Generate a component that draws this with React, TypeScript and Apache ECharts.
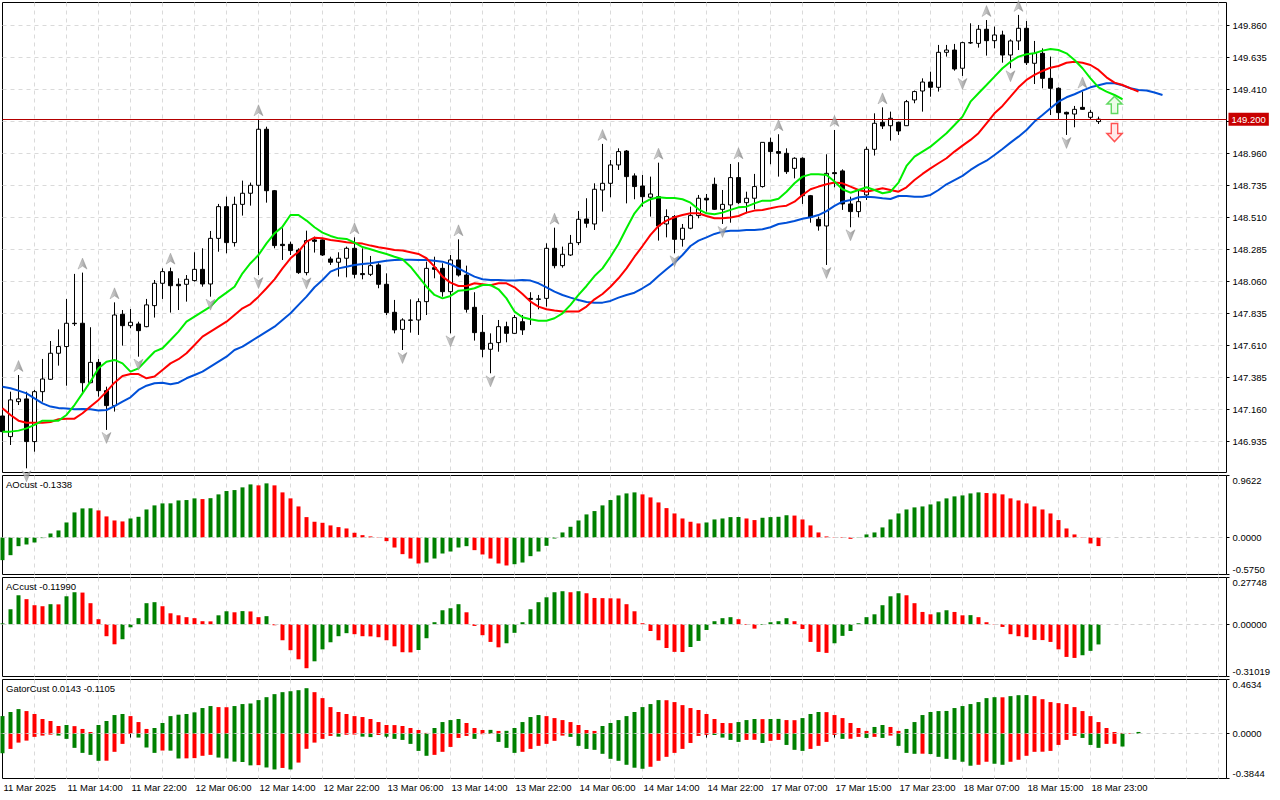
import React, { useEffect, useRef } from "react";
import * as echarts from "echarts";

// ---------- DATA ----------
const LAST_BAR = 137;
const SLOTS = 154;
const MONTHS = ["Jan", "Feb", "Mar", "Apr", "May", "Jun", "Jul", "Aug", "Sep", "Oct", "Nov", "Dec"];

// [open, high, low, close] per H1 bar, 11 Mar 06:00 .. 19 Mar 00:00
const ohlc: number[][] = [
  [147.113, 147.144, 146.980, 147.003], [146.968, 147.284, 146.909, 147.226], [147.214, 147.401, 147.190, 147.233],
  [147.233, 147.284, 146.745, 146.933], [146.933, 147.296, 146.862, 147.284], [147.284, 147.514, 147.214, 147.373],
  [147.371, 147.640, 147.366, 147.554], [147.554, 147.722, 147.467, 147.601], [147.601, 147.936, 147.326, 147.765],
  [147.765, 148.112, 147.746, 147.762], [147.765, 148.121, 147.272, 147.347], [147.347, 147.737, 147.343, 147.490],
  [147.490, 147.514, 147.249, 147.291], [147.291, 147.319, 147.015, 147.186], [147.186, 147.912, 147.144, 147.823],
  [147.828, 147.858, 147.608, 147.748], [147.748, 147.865, 147.730, 147.772], [147.760, 147.776, 147.530, 147.713],
  [147.741, 147.936, 147.737, 147.894], [147.889, 148.069, 147.805, 148.046], [148.046, 148.151, 147.936, 148.128],
  [148.128, 148.156, 147.840, 148.029], [148.039, 148.081, 147.858, 148.029], [148.039, 148.104, 147.917, 148.074],
  [148.065, 148.264, 148.058, 148.144], [148.144, 148.292, 148.022, 148.041], [148.041, 148.414, 147.952, 148.362],
  [148.362, 148.604, 148.268, 148.585], [148.585, 148.655, 148.257, 148.332], [148.332, 148.655, 148.304, 148.601],
  [148.601, 148.768, 148.522, 148.679], [148.679, 148.754, 148.592, 148.735], [148.735, 149.199, 148.104, 149.129],
  [149.129, 149.147, 148.613, 148.697], [148.697, 148.702, 148.292, 148.311], [148.320, 148.433, 148.210, 148.311],
  [148.320, 148.339, 148.245, 148.276], [148.280, 148.292, 148.112, 148.121], [148.121, 148.416, 148.102, 148.346],
  [148.351, 148.374, 148.262, 148.341], [148.351, 148.355, 148.238, 148.245], [148.217, 148.233, 148.175, 148.194],
  [148.194, 148.264, 148.093, 148.222], [148.222, 148.304, 148.088, 148.292], [148.292, 148.369, 148.081, 148.109],
  [148.114, 148.292, 148.074, 148.107], [148.109, 148.238, 148.097, 148.170], [148.175, 148.187, 148.011, 148.039],
  [148.039, 148.116, 147.823, 147.840], [147.842, 147.929, 147.694, 147.718], [147.722, 147.800, 147.577, 147.788],
  [147.788, 147.933, 147.699, 147.786], [147.788, 147.940, 147.683, 147.917], [147.917, 148.198, 147.823, 148.151],
  [148.156, 148.233, 148.081, 148.144], [148.151, 148.187, 147.952, 147.987], [147.987, 148.245, 147.694, 148.210],
  [148.210, 148.355, 148.093, 148.104], [148.104, 148.170, 147.840, 147.863], [147.877, 147.983, 147.643, 147.699],
  [147.701, 147.823, 147.526, 147.582], [147.582, 147.694, 147.413, 147.624], [147.629, 147.788, 147.565, 147.741],
  [147.741, 147.776, 147.631, 147.694], [147.694, 147.823, 147.690, 147.805], [147.776, 147.823, 147.683, 147.718],
  [147.940, 147.983, 147.753, 147.933], [147.933, 147.964, 147.863, 147.936], [147.940, 148.327, 147.882, 148.292],
  [148.292, 148.437, 148.151, 148.170], [148.170, 148.304, 148.156, 148.250], [148.245, 148.386, 148.238, 148.327],
  [148.332, 148.554, 148.315, 148.496], [148.498, 148.644, 148.437, 148.468], [148.463, 148.749, 148.421, 148.707],
  [148.702, 149.026, 148.550, 148.749], [148.749, 148.913, 148.651, 148.878], [148.878, 148.995, 148.843, 148.972],
  [148.976, 148.983, 148.608, 148.796], [148.801, 148.819, 148.637, 148.726], [148.730, 148.808, 148.585, 148.655],
  [148.651, 148.796, 148.515, 148.674], [148.655, 148.894, 148.346, 148.449], [148.463, 148.566, 148.369, 148.515],
  [148.515, 148.526, 148.257, 148.355], [148.355, 148.463, 148.304, 148.433], [148.433, 148.585, 148.426, 148.522],
  [148.522, 148.667, 148.503, 148.644], [148.644, 148.674, 148.550, 148.632], [148.742, 148.789, 148.562, 148.566],
  [148.566, 148.702, 148.463, 148.601], [148.597, 148.885, 148.472, 148.789], [148.789, 148.897, 148.604, 148.613],
  [148.613, 148.690, 148.538, 148.644], [148.644, 148.815, 148.566, 148.726], [148.726, 149.037, 148.719, 149.037],
  [149.037, 149.070, 148.883, 148.972], [148.972, 149.094, 148.796, 148.960], [148.960, 148.995, 148.815, 148.831],
  [148.854, 148.932, 148.784, 148.925], [148.925, 148.932, 148.604, 148.662], [148.662, 148.667, 148.472, 148.510],
  [148.496, 148.515, 148.416, 148.449], [148.449, 148.953, 148.175, 148.819], [148.824, 149.124, 148.721, 148.817],
  [148.836, 148.847, 148.562, 148.604], [148.604, 148.655, 148.440, 148.550], [148.550, 148.702, 148.510, 148.620],
  [148.667, 149.007, 148.632, 148.988], [148.988, 149.241, 148.944, 149.171], [149.178, 149.283, 149.131, 149.152],
  [149.154, 149.253, 149.049, 149.206], [149.178, 149.183, 149.089, 149.117], [149.154, 149.335, 149.152, 149.323],
  [149.335, 149.401, 149.312, 149.394], [149.398, 149.487, 149.253, 149.461], [149.461, 149.534, 149.358, 149.424],
  [149.424, 149.722, 149.394, 149.670], [149.670, 149.722, 149.640, 149.686], [149.686, 149.729, 149.541, 149.553],
  [149.558, 149.745, 149.504, 149.738], [149.736, 149.874, 149.729, 149.738], [149.733, 149.862, 149.703, 149.832],
  [149.832, 149.897, 149.647, 149.752], [149.752, 149.851, 149.698, 149.792], [149.792, 149.822, 149.597, 149.651],
  [149.651, 149.761, 149.558, 149.750], [149.750, 149.933, 149.686, 149.839], [149.839, 149.890, 149.581, 149.597],
  [149.593, 149.750, 149.447, 149.663], [149.663, 149.698, 149.417, 149.487], [149.487, 149.640, 149.229, 149.417],
  [149.417, 149.424, 149.201, 149.246], [149.248, 149.253, 149.089, 149.236], [149.236, 149.293, 149.143, 149.269],
  [149.283, 149.394, 149.265, 149.269], [149.213, 149.265, 149.194, 149.248], [149.183, 149.218, 149.166, 149.200],
];

// Alligator (jaw shifted 8, teeth 5, lips 3 bars forward)
const jaw = [
  147.319, 147.308, 147.291, 147.272, 147.237, 147.202, 147.179, 147.169, 147.165, 147.160,
  147.162, 147.160, 147.151, 147.155, 147.183, 147.214, 147.244, 147.296, 147.326, 147.343,
  147.347, 147.336, 147.347, 147.378, 147.401, 147.425, 147.460, 147.495, 147.530, 147.577,
  147.601, 147.636, 147.671, 147.706, 147.741, 147.788, 147.835, 147.894, 147.952, 148.018,
  148.069, 148.128, 148.151, 148.163, 148.175, 148.182, 148.187, 148.196, 148.205, 148.210,
  148.212, 148.212, 148.210, 148.210, 148.205, 148.198, 148.180, 148.151, 148.121, 148.093,
  148.074, 148.069, 148.069, 148.065, 148.065, 148.069, 148.065, 148.046, 148.018, 147.987,
  147.964, 147.945, 147.929, 147.915, 147.910, 147.910, 147.922, 147.945, 147.964, 147.980,
  148.011, 148.046, 148.097, 148.144, 148.191, 148.245, 148.308, 148.346, 148.369, 148.393,
  148.409, 148.416, 148.416, 148.421, 148.421, 148.426, 148.440, 148.463, 148.472, 148.484,
  148.500, 148.510, 148.526, 148.554, 148.590, 148.620, 148.632, 148.651, 148.655, 148.651,
  148.644, 148.639, 148.660, 148.660, 148.655, 148.655, 148.667, 148.702, 148.742, 148.772,
  148.801, 148.843, 148.878, 148.908, 148.948, 148.990, 149.035, 149.077, 149.124, 149.183,
  149.229, 149.276, 149.323, 149.354, 149.375, 149.401, 149.424, 149.438, 149.452, 149.452,
  149.438, 149.417, 149.405, 149.401, 149.387, 149.370,
];
const teeth = [
  147.167, 147.120, 147.080, 147.066, 147.066, 147.066, 147.071, 147.090, 147.094, 147.094,
  147.132, 147.179, 147.226, 147.284, 147.347, 147.394, 147.408, 147.408, 147.378, 147.390,
  147.437, 147.483, 147.512, 147.554, 147.612, 147.671, 147.706, 147.741, 147.776, 147.823,
  147.870, 147.900, 147.952, 148.011, 148.074, 148.151, 148.222, 148.268, 148.339, 148.367,
  148.362, 148.351, 148.344, 148.334, 148.329, 148.325, 148.311, 148.299, 148.290, 148.280,
  148.276, 148.264, 148.252, 148.222, 148.163, 148.093, 148.051, 148.027, 148.027, 148.046,
  148.039, 148.032, 148.046, 148.046, 148.018, 147.971, 147.917, 147.882, 147.863, 147.854,
  147.847, 147.847, 147.847, 147.882, 147.933, 147.971, 148.022, 148.081, 148.151, 148.233,
  148.308, 148.386, 148.449, 148.487, 148.510, 148.526, 148.538, 148.538, 148.519, 148.503,
  148.503, 148.508, 148.519, 148.543, 148.557, 148.562, 148.573, 148.585, 148.592, 148.620,
  148.667, 148.707, 148.726, 148.742, 148.754, 148.749, 148.726, 148.702, 148.690, 148.702,
  148.714, 148.702, 148.690, 148.721, 148.772, 148.815, 148.854, 148.890, 148.925, 148.972,
  149.014, 149.054, 149.101, 149.171, 149.241, 149.293, 149.358, 149.424, 149.476, 149.511,
  149.539, 149.562, 149.574, 149.597, 149.604, 149.597, 149.581, 149.546, 149.494, 149.457,
  149.440, 149.417, 149.394,
];
const lips = [
  147.003, 147.003, 147.010, 147.026, 147.050, 147.080, 147.080, 147.080, 147.120, 147.190,
  147.272, 147.355, 147.448, 147.495, 147.507, 147.483, 147.425, 147.448, 147.507, 147.565,
  147.589, 147.647, 147.706, 147.776, 147.812, 147.847, 147.882, 147.940, 147.980, 148.022,
  148.116, 148.187, 148.245, 148.327, 148.397, 148.444, 148.526, 148.526, 148.487, 148.440,
  148.402, 148.379, 148.362, 148.358, 148.332, 148.301, 148.285, 148.268, 148.252, 148.233,
  148.215, 148.163, 148.093, 148.022, 147.964, 147.940, 147.957, 147.994, 147.999, 148.011,
  148.034, 148.034, 148.004, 147.940, 147.847, 147.807, 147.793, 147.783, 147.783, 147.800,
  147.835, 147.894, 147.964, 148.027, 148.097, 148.151, 148.233, 148.322, 148.433, 148.538,
  148.608, 148.637, 148.651, 148.646, 148.646, 148.637, 148.613, 148.566, 148.538, 148.531,
  148.543, 148.562, 148.580, 148.585, 148.608, 148.627, 148.627, 148.641, 148.690, 148.749,
  148.796, 148.812, 148.812, 148.808, 148.761, 148.707, 148.683, 148.702, 148.721, 148.702,
  148.679, 148.690, 148.754, 148.871, 148.937, 148.972, 149.007, 149.054, 149.101, 149.159,
  149.218, 149.323, 149.382, 149.440, 149.499, 149.558, 149.604, 149.640, 149.656, 149.663,
  149.682, 149.694, 149.686, 149.663, 149.616, 149.558, 149.487, 149.424, 149.394, 149.370,
  149.340,
];

const fractalUp = [2, 10, 14, 21, 32, 44, 57, 69, 75, 82, 92, 97, 104, 110, 123, 127, 135];
const fractalDown = [3, 13, 17, 26, 32, 38, 50, 56, 61, 84, 90, 103, 106, 120, 126, 133];
const signalBar = 139;
const signalUpPrice = 149.3;
const signalDownPrice = 149.106;
const currentPrice = 149.2;

const ao = [
  -0.352, -0.275, -0.135, -0.109, -0.078, -0.010, 0.062, 0.109, 0.233, 0.389,
  0.451, 0.453, 0.420, 0.327, 0.264, 0.249, 0.295, 0.321, 0.435, 0.498,
  0.529, 0.530, 0.575, 0.581, 0.607, 0.596, 0.610, 0.669, 0.721, 0.736,
  0.778, 0.824, 0.809, 0.840, 0.809, 0.700, 0.607, 0.482, 0.316, 0.244,
  0.228, 0.187, 0.161, 0.140, 0.073, 0.036, 0.016, -0.005, -0.057, -0.156,
  -0.259, -0.327, -0.404, -0.389, -0.327, -0.249, -0.218, -0.156, -0.135, -0.197,
  -0.264, -0.327, -0.404, -0.435, -0.415, -0.389, -0.290, -0.218, -0.130, -0.016,
  0.078, 0.166, 0.264, 0.358, 0.410, 0.498, 0.581, 0.653, 0.684, 0.700,
  0.669, 0.622, 0.544, 0.456, 0.373, 0.295, 0.244, 0.218, 0.233, 0.280,
  0.295, 0.316, 0.318, 0.295, 0.270, 0.306, 0.316, 0.321, 0.345, 0.340,
  0.280, 0.187, 0.078, 0.016, -0.005, -0.008, -0.021, -0.004, 0.047, 0.078,
  0.156, 0.280, 0.373, 0.435, 0.467, 0.482, 0.513, 0.560, 0.607, 0.638,
  0.653, 0.684, 0.700, 0.690, 0.684, 0.669, 0.607, 0.575, 0.529, 0.482,
  0.435, 0.373, 0.270, 0.140, 0.047, -0.005, -0.093, -0.1338,
];
const ac = [
  0.005, 0.089, 0.172, 0.149, 0.113, 0.107, 0.119, 0.118, 0.166, 0.190,
  0.188, 0.125, 0.030, -0.071, -0.119, -0.089, -0.018, 0.036, 0.125, 0.131,
  0.107, 0.065, 0.053, 0.042, 0.036, 0.018, 0.017, 0.053, 0.077, 0.071,
  0.078, 0.076, 0.042, 0.048, -0.006, -0.095, -0.154, -0.208, -0.261, -0.220,
  -0.149, -0.107, -0.071, -0.053, -0.059, -0.071, -0.072, -0.077, -0.095, -0.131,
  -0.166, -0.167, -0.153, -0.083, 0.012, 0.083, 0.095, 0.119, 0.071, -0.010,
  -0.065, -0.105, -0.137, -0.113, -0.051, 0.012, 0.089, 0.131, 0.160, 0.190,
  0.196, 0.190, 0.196, 0.184, 0.156, 0.155, 0.154, 0.153, 0.119, 0.077,
  0.006, -0.040, -0.095, -0.141, -0.164, -0.165, -0.135, -0.099, -0.034, 0.018,
  0.036, 0.042, 0.030, -0.004, -0.026, -0.004, 0.012, 0.018, 0.036, 0.018,
  -0.028, -0.105, -0.164, -0.170, -0.113, -0.069, -0.040, 0.006, 0.042, 0.059,
  0.113, 0.166, 0.184, 0.172, 0.125, 0.073, 0.059, 0.071, 0.083, 0.073,
  0.053, 0.054, 0.042, 0.012, -0.002, -0.016, -0.059, -0.071, -0.077, -0.093,
  -0.094, -0.105, -0.149, -0.194, -0.200, -0.184, -0.158, -0.1199,
];
const gatorUpper = [
  0.150, 0.185, 0.210, 0.193, 0.168, 0.125, 0.108, 0.065, 0.074, 0.064,
  0.040, 0.014, 0.074, 0.108, 0.159, 0.168, 0.150, 0.099, 0.040, 0.048,
  0.091, 0.150, 0.162, 0.168, 0.182, 0.219, 0.236, 0.227, 0.226, 0.236,
  0.253, 0.258, 0.287, 0.312, 0.338, 0.355, 0.363, 0.372, 0.389, 0.355,
  0.304, 0.227, 0.185, 0.168, 0.150, 0.142, 0.125, 0.099, 0.074, 0.073,
  0.065, 0.048, 0.031, 0.006, 0.048, 0.099, 0.116, 0.125, 0.091, 0.048,
  0.031, 0.032, 0.023, 0.024, 0.048, 0.099, 0.142, 0.159, 0.150, 0.133,
  0.116, 0.099, 0.074, 0.031, 0.023, 0.065, 0.091, 0.116, 0.150, 0.185,
  0.227, 0.253, 0.287, 0.286, 0.270, 0.244, 0.219, 0.202, 0.168, 0.125,
  0.091, 0.090, 0.099, 0.116, 0.125, 0.124, 0.125, 0.126, 0.116, 0.115,
  0.133, 0.168, 0.185, 0.184, 0.159, 0.133, 0.091, 0.048, 0.023, 0.057,
  0.074, 0.057, 0.023, 0.040, 0.099, 0.159, 0.185, 0.193, 0.194, 0.219,
  0.236, 0.253, 0.270, 0.304, 0.312, 0.311, 0.321, 0.329, 0.330, 0.321,
  0.295, 0.270, 0.261, 0.253, 0.227, 0.193, 0.150, 0.099, 0.048, 0.014,
  0.006, 0.005, 0.0143,
];
const gatorLower = [
  -0.168, -0.131, -0.077, -0.060, -0.028, -0.017, -0.009, -0.017, -0.045, -0.122,
  -0.165, -0.182, -0.233, -0.232, -0.156, -0.088, -0.002, -0.034, -0.119, -0.165,
  -0.145, -0.146, -0.213, -0.212, -0.210, -0.190, -0.182, -0.205, -0.213, -0.240,
  -0.243, -0.272, -0.270, -0.290, -0.307, -0.294, -0.307, -0.248, -0.130, -0.077,
  -0.045, -0.020, -0.026, -0.010, -0.008, -0.026, -0.030, -0.012, -0.026, -0.045,
  -0.054, -0.088, -0.148, -0.190, -0.182, -0.156, -0.114, -0.037, -0.020, -0.045,
  -0.005, -0.003, -0.071, -0.122, -0.165, -0.156, -0.131, -0.105, -0.088, -0.062,
  -0.017, -0.028, -0.105, -0.131, -0.139, -0.173, -0.216, -0.233, -0.267, -0.292,
  -0.301, -0.284, -0.233, -0.199, -0.165, -0.131, -0.080, -0.020, -0.011, -0.012,
  -0.034, -0.054, -0.071, -0.054, -0.053, -0.080, -0.062, -0.054, -0.097, -0.139,
  -0.148, -0.131, -0.105, -0.071, -0.011, -0.045, -0.044, -0.028, -0.037, -0.028,
  -0.037, -0.017, -0.105, -0.165, -0.173, -0.172, -0.175, -0.199, -0.216, -0.224,
  -0.241, -0.275, -0.267, -0.241, -0.258, -0.267, -0.241, -0.224, -0.190, -0.156,
  -0.155, -0.148, -0.097, -0.054, -0.020, -0.037, -0.097, -0.122, -0.088, -0.087,
  -0.1105,
];

const priceTicks = [146.935, 147.16, 147.385, 147.61, 147.835, 148.06, 148.285, 148.51, 148.735, 148.96, 149.185, 149.41, 149.635, 149.86];
const priceLabels = [146.935, 147.16, 147.385, 147.61, 147.835, 148.06, 148.285, 148.51, 148.735, 148.96, 149.41, 149.635, 149.86];
const aoRange = [-0.575, 0.9622];
const acRange = [-0.31019, 0.27748];
const gatorRange = [-0.3844, 0.4634];
const priceRange = [146.7156, 150.0203];

// ---------- helpers ----------
const FONT = "Liberation Sans";
const FS = 9.5;
const UP = "#008000";
const DOWN = "#ff0000";

function buildCategories(n: number): string[] {
  const out: string[] = [];
  let t = Date.UTC(2025, 2, 11, 6);
  while (out.length < n) {
    const d = new Date(t);
    const wd = d.getUTCDay();
    const h = d.getUTCHours();
    const skip = wd === 6 || wd === 0 || (wd === 1 && h === 0);
    if (!skip) out.push(`${d.getUTCDate()} ${MONTHS[d.getUTCMonth()]} ${String(h).padStart(2, "0")}:00`);
    t += 3600000;
  }
  return out;
}

function colored(vals: number[], useAbs: boolean) {
  return vals.map((v, i) => {
    let up = true;
    if (i > 0) {
      const a = useAbs ? Math.abs(v) : v;
      const b = useAbs ? Math.abs(vals[i - 1]) : vals[i - 1];
      up = a > b;
    }
    return { value: v, itemStyle: { color: up ? UP : DOWN } };
  });
}

const categories = buildCategories(SLOTS);
const labelShown = (i: number) => i % 8 === 0 && i <= LAST_BAR;
const gridShown = (i: number) => i > 0 && i % 4 === 0;
const dash = { color: "#dadada", type: [4, 4] as number[], width: 1 };

const GRID_LEFT = 2.5;
const GRID_W = 1224;

function makeXAxis(gridIndex: number, showLabels: boolean) {
  return {
    type: "category",
    gridIndex,
    data: categories,
    boundaryGap: false,
    axisLine: { show: false },
    axisTick: showLabels
      ? { show: true, interval: (i: number) => labelShown(i), length: 4, lineStyle: { color: "#000" } }
      : { show: false },
    axisLabel: showLabels
      ? {
          show: true,
          interval: (i: number) => labelShown(i),
          formatter: (v: string, i: number) => (i === 0 ? "11 Mar 2025" : v),
          align: "left",
          margin: 4,
          padding: [0, 0, 0, 1],
          color: "#000",
          fontFamily: FONT,
          fontSize: FS,
        }
      : { show: false },
    splitLine: { show: true, interval: (i: number) => gridShown(i), lineStyle: dash },
  };
}

function makeSubYAxis(gridIndex: number, range: number[], digits: number) {
  const vals = [range[0], 0, range[1]];
  return {
    type: "value",
    gridIndex,
    position: "right",
    min: range[0],
    max: range[1],
    axisLine: { show: false },
    axisTick: { show: true, length: 3, customValues: vals, lineStyle: { color: "#000" } },
    axisLabel: {
      show: true,
      customValues: vals,
      formatter: (v: number) => v.toFixed(digits),
      margin: 6,
      color: "#000",
      fontFamily: FONT,
      fontSize: FS,
      verticalAlignMinLabel: "bottom",
      verticalAlignMaxLabel: "top",
    },
    splitLine: { show: false },
  };
}

const zeroLine = {
  silent: true,
  symbol: ["none", "none"],
  label: { show: false },
  lineStyle: { color: "#d0d0d0", type: [4, 4], width: 1 },
  data: [{ yAxis: 0 }],
};

const fractalGrad = () =>
  new echarts.graphic.LinearGradient(0, 0, 1, 0, [
    { offset: 0, color: "#d6d6d6" },
    { offset: 1, color: "#7a7a7a" },
  ]);

export default function App() {
  const ref = useRef<HTMLDivElement>(null);

  useEffect(() => {
    if (!ref.current) return;
    const chart = echarts.init(ref.current, undefined, { renderer: "svg" });

    const candleData = ohlc.map((r) => [r[0], r[3], r[2], r[1]]);
    const gridBase = { left: GRID_LEFT, width: GRID_W, show: true, borderColor: "#000", borderWidth: 1, backgroundColor: "#fff" };

    const titleStyle = { fontSize: FS, fontWeight: "normal", color: "#000", fontFamily: FONT };

    const option: any = {
      animation: false,
      backgroundColor: "#fff",
      title: [
        { text: `AOcust ${ao[ao.length - 1].toFixed(4)}`, left: 6, top: 479, padding: 0, textStyle: titleStyle },
        { text: `ACcust ${ac[ac.length - 1].toFixed(5)}`, left: 6, top: 581, padding: 0, textStyle: titleStyle },
        {
          text: `GatorCust ${gatorUpper[gatorUpper.length - 1].toFixed(4)} ${gatorLower[gatorLower.length - 1].toFixed(4)}`,
          left: 6,
          top: 683,
          padding: 0,
          textStyle: titleStyle,
        },
      ],
      grid: [
        { ...gridBase, top: 2.5, height: 470 },
        { ...gridBase, top: 475.5, height: 99 },
        { ...gridBase, top: 577.5, height: 99 },
        { ...gridBase, top: 679.5, height: 99 },
      ],
      xAxis: [makeXAxis(0, false), makeXAxis(1, false), makeXAxis(2, false), makeXAxis(3, true)],
      yAxis: [
        {
          type: "value",
          gridIndex: 0,
          position: "right",
          min: priceRange[0],
          max: priceRange[1],
          axisLine: { show: false },
          axisTick: { show: true, length: 3, customValues: priceTicks, lineStyle: { color: "#000" } },
          axisLabel: {
            show: true,
            customValues: priceLabels,
            formatter: (v: number) => v.toFixed(3),
            margin: 6,
            color: "#000",
            fontFamily: FONT,
            fontSize: FS,
          },
          splitLine: { show: true, lineStyle: dash },
        },
        makeSubYAxis(1, aoRange, 4),
        makeSubYAxis(2, acRange, 5),
        makeSubYAxis(3, gatorRange, 4),
      ],
      series: [
        {
          type: "candlestick",
          xAxisIndex: 0,
          yAxisIndex: 0,
          data: candleData,
          barWidth: 4,
          itemStyle: { color: "#ffffff", color0: "#000000", borderColor: "#000000", borderColor0: "#000000", borderWidth: 1 },
          z: 2,
          markLine: {
            silent: true,
            symbol: ["none", "none"],
            lineStyle: { color: "#b40000", width: 1, type: "solid" },
            label: {
              show: true,
              position: "end",
              distance: 2,
              formatter: () => currentPrice.toFixed(3),
              color: "#fff",
              backgroundColor: "#c80000",
              padding: [2, 3, 1, 3],
              fontFamily: FONT,
              fontSize: FS,
            },
            data: [{ yAxis: currentPrice }],
          },
        },
        { type: "line", name: "Jaw", xAxisIndex: 0, yAxisIndex: 0, data: jaw, symbol: "none", lineStyle: { color: "#0050d8", width: 2 }, z: 4 },
        { type: "line", name: "Teeth", xAxisIndex: 0, yAxisIndex: 0, data: teeth, symbol: "none", lineStyle: { color: "#ff0000", width: 2 }, z: 4 },
        { type: "line", name: "Lips", xAxisIndex: 0, yAxisIndex: 0, data: lips, symbol: "none", lineStyle: { color: "#00ee00", width: 2 }, z: 4 },
        {
          type: "scatter",
          xAxisIndex: 0,
          yAxisIndex: 0,
          data: fractalUp.map((i) => [i, ohlc[i][1]]),
          symbol: "path://M5,0 L10,11 L5,8 L0,11 Z",
          symbolSize: [9, 11],
          symbolOffset: [0, -9],
          itemStyle: { color: fractalGrad(), borderColor: "#8a8a8a", borderWidth: 0.5 },
          z: 5,
        },
        {
          type: "scatter",
          xAxisIndex: 0,
          yAxisIndex: 0,
          data: fractalDown.map((i) => [i, ohlc[i][2]]),
          symbol: "path://M0,0 L5,3 L10,0 L5,11 Z",
          symbolSize: [9, 11],
          symbolOffset: [0, 8],
          itemStyle: { color: fractalGrad(), borderColor: "#8a8a8a", borderWidth: 0.5 },
          z: 5,
        },
        {
          type: "scatter",
          xAxisIndex: 0,
          yAxisIndex: 0,
          z: 5,
          data: [
            {
              value: [signalBar, signalUpPrice],
              symbol: "path://M7,0 L14,8 L10,8 L10,18 L4,18 L4,8 L0,8 Z",
              symbolSize: [15, 17],
              itemStyle: { color: "#e6fbe0", borderColor: "#3ccf3c", borderWidth: 1.5 },
            },
            {
              value: [signalBar, signalDownPrice],
              symbol: "path://M4,0 L10,0 L10,10 L14,10 L7,18 L0,10 L4,10 Z",
              symbolSize: [15, 18],
              itemStyle: { color: "#ffe4e4", borderColor: "#ff2a2a", borderWidth: 1.5 },
            },
          ],
        },
        { type: "bar", xAxisIndex: 1, yAxisIndex: 1, data: colored(ao, false), barWidth: 4, markLine: zeroLine },
        { type: "bar", xAxisIndex: 2, yAxisIndex: 2, data: colored(ac, false), barWidth: 4, markLine: zeroLine },
        { type: "bar", xAxisIndex: 3, yAxisIndex: 3, data: colored(gatorUpper, true), barWidth: 4, barGap: "-100%" },
        { type: "bar", xAxisIndex: 3, yAxisIndex: 3, data: colored(gatorLower, true), barWidth: 4, barGap: "-100%", markLine: zeroLine },
      ],
    };

    chart.setOption(option);
    return () => chart.dispose();
  }, []);

  return (
    <div
      ref={ref}
      style={{ position: "fixed", left: 0, top: 0, width: 1280, height: 800, background: "#fff" }}
    />
  );
}
